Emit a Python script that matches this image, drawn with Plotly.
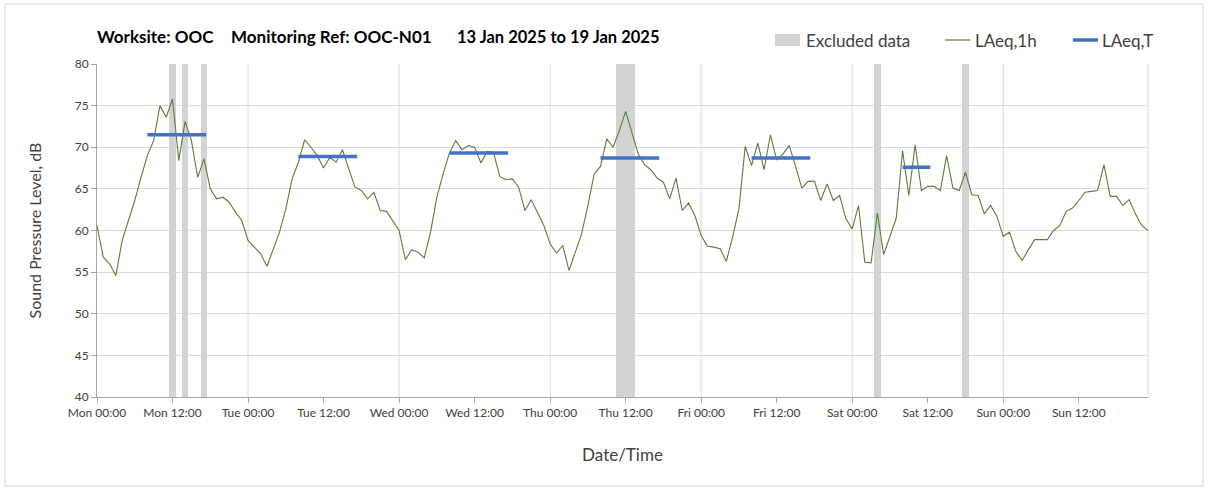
import pandas as pd
import plotly.graph_objects as go

# ---------------- data ----------------
start = "2025-01-13 00:00"
laeq_1h = [
    # Mon
    60.6, 56.8, 56.0, 54.6, 58.8, 61.2, 63.6, 66.4, 69.0, 70.8, 75.0, 73.6,
    75.8, 68.4, 73.1, 70.8, 66.4, 68.6, 65.0, 63.8, 64.0, 63.4, 62.2, 61.2,
    # Tue
    58.8, 58.0, 57.2, 55.7, 57.8, 59.8, 62.6, 66.2, 68.2, 70.9, 70.0, 69.0,
    67.5, 68.8, 68.2, 69.7, 67.4, 65.2, 64.8, 63.8, 64.6, 62.4, 62.3, 61.2,
    # Wed
    60.0, 56.5, 57.7, 57.4, 56.7, 59.8, 64.0, 66.8, 69.3, 70.8, 69.7, 70.2,
    70.0, 68.1, 69.5, 69.4, 66.5, 66.1, 66.2, 65.2, 62.4, 63.7, 62.1, 60.6,
    # Thu
    58.4, 57.3, 58.2, 55.2, 57.4, 59.6, 63.0, 66.8, 67.7, 71.0, 70.0, 72.0,
    74.3, 71.6, 69.2, 67.9, 67.3, 66.3, 65.8, 63.8, 66.3, 62.4, 63.3, 61.8,
    # Fri
    59.4, 58.1, 58.0, 57.8, 56.3, 59.2, 62.6, 70.1, 67.8, 70.5, 67.3, 71.5,
    68.5, 69.2, 70.2, 67.7, 65.1, 65.9, 65.9, 63.6, 65.6, 63.6, 64.2, 61.4,
    # Sat
    60.2, 63.0, 56.2, 56.1, 62.1, 57.1, 59.2, 61.5, 69.6, 64.2, 70.3, 64.8,
    65.3, 65.3, 64.8, 69.0, 65.1, 64.8, 67.0, 64.3, 64.2, 62.0, 63.0, 61.7,
    # Sun
    59.3, 59.8, 57.5, 56.4, 57.7, 58.9, 58.9, 58.9, 60.0, 60.6, 62.3, 62.7,
    63.6, 64.6, 64.7, 64.8, 67.9, 64.1, 64.1, 63.0, 63.7, 62.0, 60.6, 60.0,
]
times = pd.date_range(start, periods=len(laeq_1h), freq="h")

# excluded periods (start, end)
excl_start = ["2025-01-13 11:30", "2025-01-13 13:30", "2025-01-13 16:30",
              "2025-01-16 10:30", "2025-01-18 03:30", "2025-01-18 17:30"]
excl_end = ["2025-01-13 12:30", "2025-01-13 14:30", "2025-01-13 17:30",
            "2025-01-16 13:30", "2025-01-18 04:30", "2025-01-18 18:30"]

# LAeq,T periods
t_start = ["2025-01-13 08:00", "2025-01-14 08:00", "2025-01-15 08:00",
           "2025-01-16 08:00", "2025-01-17 08:00", "2025-01-18 08:00"]
t_end = ["2025-01-13 17:20", "2025-01-14 17:20", "2025-01-15 17:20",
         "2025-01-16 17:20", "2025-01-17 17:20", "2025-01-18 12:25"]
laeq_t = [71.5, 68.9, 69.3, 68.7, 68.7, 67.6]

y_min, y_max = 40, 80

# ---------------- styling ----------------
W, H = 1208, 490
L, R, T, B = 97, 1148, 64, 397
GREEN = "#5a7d3c"
BLUE = "#4472C4"
GREY_BAR = "#d3d3d3"
GRID = "#d9d9d9"
FONT = "Lato"


def px(x):
    return (x - L) / (R - L)


def py(y):
    return (B - y) / (B - T)


fig = go.Figure()

# excluded data bars
es = pd.to_datetime(excl_start)
ee = pd.to_datetime(excl_end)
centers = es + (ee - es) / 2
widths = [(b - a).total_seconds() * 1000 for a, b in zip(es, ee)]
fig.add_trace(go.Bar(
    x=centers, y=[y_max - y_min] * len(centers), base=y_min, width=widths,
    marker=dict(color=GREY_BAR, line=dict(width=0)), name="Excluded data",
    showlegend=False, hoverinfo="skip",
))

# LAeq,1h line
fig.add_trace(go.Scatter(
    x=times, y=laeq_1h, mode="lines", line=dict(color=GREEN, width=1.1),
    name="LAeq,1h", showlegend=False,
))

# LAeq,T segments
xs, ys = [], []
for a, b, v in zip(t_start, t_end, laeq_t):
    xs += [a, b, None]
    ys += [v, v, None]
fig.add_trace(go.Scatter(
    x=xs, y=ys, mode="lines", line=dict(color=BLUE, width=3.5),
    name="LAeq,T", showlegend=False, connectgaps=False,
))

shapes = []
# vertical day gridlines
for d in pd.date_range(start, periods=7, freq="D")[1:]:
    shapes.append(dict(type="line", xref="x", yref="paper", x0=d, x1=d, y0=0, y1=1,
                       line=dict(color=GRID, width=1), layer="below"))
# right edge line
shapes.append(dict(type="line", xref="paper", yref="paper", x0=1, x1=1, y0=0, y1=1,
                   line=dict(color=GRID, width=1), layer="below"))
# chart border
shapes.append(dict(type="rect", xref="paper", yref="paper",
                   x0=px(5), x1=px(1203), y0=py(486), y1=py(4),
                   line=dict(color="#d9d9d9", width=1), fillcolor="rgba(0,0,0,0)"))
# legend swatches
shapes.append(dict(type="rect", xref="paper", yref="paper",
                   x0=px(775), x1=px(800), y0=py(46), y1=py(34),
                   line=dict(width=0), fillcolor=GREY_BAR))
shapes.append(dict(type="line", xref="paper", yref="paper",
                   x0=px(945), x1=px(970), y0=py(40), y1=py(40),
                   line=dict(color=GREEN, width=1.2)))
shapes.append(dict(type="line", xref="paper", yref="paper",
                   x0=px(1073), x1=px(1098), y0=py(40), y1=py(40),
                   line=dict(color=BLUE, width=3.5)))

annotations = []
title_parts = [(95, "Worksite: OOC"), (229, "Monitoring Ref: OOC-N01"),
               (455, "13 Jan 2025 to 19 Jan 2025")]
title_sizes = [17, 17, 16.5]
for (xpos, txt), sz in zip(title_parts, title_sizes):
    annotations.append(dict(xref="paper", yref="paper", x=px(xpos), y=py(37),
                            xanchor="left", yanchor="middle", showarrow=False,
                            text="<b>" + txt + "</b>",
                            font=dict(family=FONT, size=sz, color="#000000")))
legend_parts = [(804, "Excluded data"), (973, "LAeq,1h"), (1100, "LAeq,T")]
for xpos, txt in legend_parts:
    annotations.append(dict(xref="paper", yref="paper", x=px(xpos), y=py(40),
                            xanchor="left", yanchor="middle", showarrow=False,
                            text=txt, font=dict(family=FONT, size=17, color="#404040")))

fig.update_layout(
    width=W, height=H,
    margin=dict(l=L, r=W - R, t=T, b=H - B),
    paper_bgcolor="white", plot_bgcolor="white",
    font=dict(family=FONT, size=12, color="#404040"),
    showlegend=False,
    bargap=0,
    shapes=shapes, annotations=annotations,
    xaxis=dict(
        type="date", range=[times[0], times[-1]],
        tick0=start, dtick=12 * 3600 * 1000, tickformat="%a %H:%M",
        showgrid=False, zeroline=False,
        showline=True, linecolor="#a6a6a6", linewidth=1,
        ticks="outside", ticklen=5, tickcolor="#a6a6a6",
        tickfont=dict(family=FONT, size=12, color="#404040"),
        title=dict(text="Date/Time", standoff=29,
                   font=dict(family=FONT, size=17, color="#404040")),
    ),
    yaxis=dict(
        range=[y_min, y_max], dtick=5, tick0=40,
        showgrid=True, gridcolor=GRID, gridwidth=1, zeroline=False,
        showline=True, linecolor="#a6a6a6", linewidth=1,
        ticks="outside", ticklen=5, tickcolor="#a6a6a6",
        tickfont=dict(family=FONT, size=12, color="#404040"),
        title=dict(text="Sound Pressure Level, dB", standoff=29,
                   font=dict(family=FONT, size=16, color="#404040")),
    ),
)

fig.write_html("out.html", config={"displayModeBar": False},
               post_script="document.body.style.margin='0';document.body.style.overflow='hidden';")
